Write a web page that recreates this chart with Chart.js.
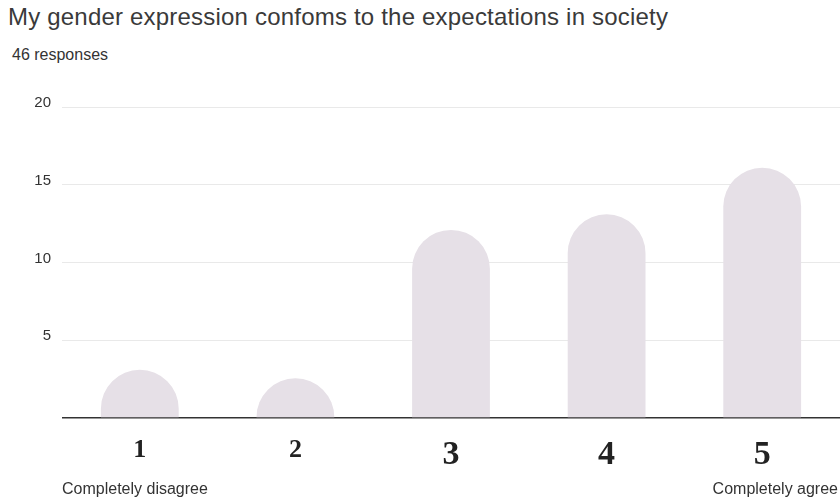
<!DOCTYPE html>
<html lang="en">
<head>
  <meta charset="UTF-8">
  <title>My gender expression</title>
  <script src="https://cdn.jsdelivr.net/npm/chart.js"></script>
  <style>
    body {
      margin: 0;
      width: 840px;
      height: 499px;
      position: relative;
      overflow: hidden;
      background: #fff;
      font-family: 'Liberation Sans', Arial, sans-serif;
      color: #333;
    }
    #title {
      position: absolute;
      left: 8px;
      top: 3px;
      font-size: 24px;
      letter-spacing: 0.2px;
      color: #3a3a3a;
      white-space: nowrap;
    }
    #count {
      position: absolute;
      left: 12px;
      top: 46px;
      font-size: 16px;
      color: #333;
    }
    .endLabel {
      position: absolute;
      top: 480px;
      font-size: 16px;
      color: #333;
      white-space: nowrap;
    }
    #wrap {
      position: absolute;
      left: 0;
      top: 0;
      width: 840px;
      height: 499px;
    }
  </style>
</head>
<body>

<div id="title">My gender expression confoms to the expectations in society</div>
<div id="count">46 responses</div>
<div id="wrap"><canvas id="chart"></canvas></div>
<div class="endLabel" style="left:62px">Completely disagree</div>
<div class="endLabel" style="right:2px">Completely agree</div>

<script>
const categories = ['1', '2', '3', '4', '5'];
const responses = [3, 2, 12, 13, 16];
const yTicks = [5, 10, 15, 20];

// bars with a full half-circle top, like the original survey chart
const domeBars = {
  id: 'domeBars',
  beforeDatasetDraw(chart, args) {
    const ctx = chart.ctx;
    const meta = args.meta;
    ctx.save();
    meta.data.forEach(el => {
      const p = el.getProps(['x', 'y', 'base', 'width'], true);
      const r = p.width / 2;
      const top = Math.min(p.y - 1.5, p.base - r);
      const cy = top + r;
      ctx.beginPath();
      ctx.moveTo(p.x - r, p.base);
      ctx.lineTo(p.x - r, cy);
      ctx.arc(p.x, cy, r, Math.PI, 0);
      ctx.lineTo(p.x + r, p.base);
      ctx.closePath();
      ctx.fillStyle = el.options.backgroundColor;
      ctx.fill();
    });
    ctx.restore();
    return false;
  }
};

new Chart(document.getElementById('chart'), {
  type: 'bar',
  data: {
    labels: categories,
    datasets: [{
      data: responses,
      backgroundColor: '#e6e0e7',
      barPercentage: 0.5,
      categoryPercentage: 1
    }]
  },
  options: {
    responsive: true,
    maintainAspectRatio: false,
    animation: false,
    layout: { padding: { top: 107, right: 0, bottom: 0, left: 0 } },
    plugins: {
      legend: { display: false },
      tooltip: { enabled: false }
    },
    scales: {
      x: {
        grid: { display: false },
        border: { display: false },
        ticks: {
          color: '#222',
          padding: 9,
          font: c => ({
            family: "'Liberation Serif', 'DejaVu Serif', serif",
            size: c.index < 2 ? 26 : 34,
            weight: 'bold'
          })
        },
        afterFit(scale) { scale.height = 81; }
      },
      y: {
        min: 0,
        max: 20,
        border: { display: false },
        grid: {
          drawTicks: false,
          color: c => c.tick.value === 0 ? '#333' : '#e9e9e9',
          lineWidth: c => c.tick.value === 0 ? 1.5 : 1
        },
        ticks: {
          stepSize: 5,
          padding: 11,
          labelOffset: -4,
          color: '#333',
          font: { family: "'Liberation Sans', Arial, sans-serif", size: 15 },
          callback: v => yTicks.includes(v) ? v : ''
        },
        afterFit(scale) { scale.width = 62; }
      }
    }
  },
  plugins: [domeBars]
});
</script>

</body>
</html>
